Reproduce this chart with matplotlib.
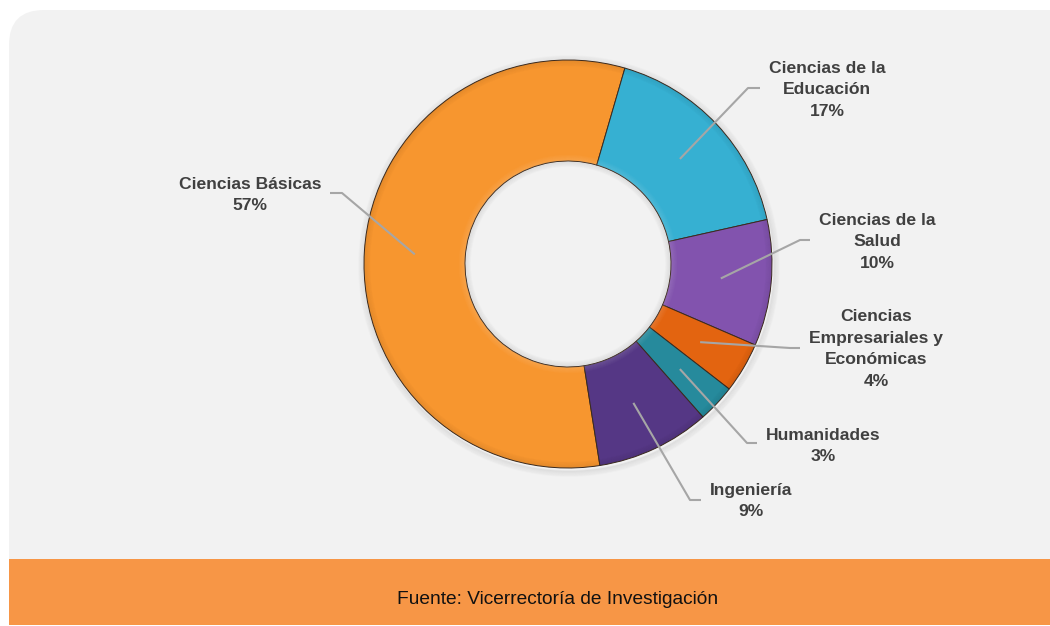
import numpy as np
import matplotlib.pyplot as plt
from matplotlib.patches import FancyBboxPatch, Rectangle, Circle, Wedge

categorias = ["Ciencias Básicas", "Ciencias de la\nEducación", "Ciencias de la\nSalud",
              "Ciencias\nEmpresariales y\nEconómicas", "Humanidades", "Ingeniería"]
porcentajes = [57, 17, 10, 4, 3, 9]
colores = ["#F7962F", "#36B0D2", "#8253AE", "#E36410", "#268A9C", "#553785"]

# posiciones de las etiquetas y codos de las líneas guía (en píxeles, y hacia abajo)
pos_etiqueta = [(250, 195), (827, 90), (877, 242), (876, 349), (823, 446), (751, 501)]
codo = [((342, 193), (330, 193)), ((748, 88), (760, 88)), ((800, 240), (810, 240)),
        ((790, 348), (800, 348)), ((747, 443), (757, 443)), ((690, 500), (701, 500))]

W, H = 1050, 626
fig = plt.figure(figsize=(W / 100, H / 100), dpi=100)
ax = fig.add_axes([0, 0, 1, 1])

# panel gris y franja naranja de la fuente
ax.add_patch(FancyBboxPatch((9, H - 600), W + 60, 590,
                            boxstyle="round,pad=0,rounding_size=35",
                            facecolor="#F2F2F2", edgecolor="none", zorder=0))
ax.add_patch(Rectangle((9, 1), W, 66, facecolor="#F79646", edgecolor="none", zorder=1))
ax.text(558, H - 600, "Fuente: Vicerrectoría de Investigación", ha="center", va="center",
        fontsize=13.8, family="Liberation Sans", color="#111111", zorder=5)

cx, cy = 568, H - 264
R, ancho = 204, 101

# sombra suave alrededor del anillo
for k in range(6):
    ax.add_patch(Circle((cx + 1, cy - 2), R + 1 + k, facecolor="none",
                        edgecolor="#000000", alpha=0.05 - k * 0.007, lw=1.2, zorder=1))

wedges, _ = ax.pie(porcentajes, colors=colores, startangle=-81, counterclock=False,
                   center=(cx, cy), radius=R,
                   wedgeprops=dict(width=ancho, edgecolor="#3b2a1e", linewidth=0.7))
for w in wedges:
    w.set_zorder(3)
    # relieve: borde exterior más oscuro, borde interior más claro
    for i in range(6):
        ax.add_patch(Wedge((cx, cy), R - i, w.theta1, w.theta2, width=1.2,
                           facecolor="#000000", alpha=0.06 - i * 0.009, lw=0, zorder=3.1))
        ax.add_patch(Wedge((cx, cy), R - ancho + 1.2 + i, w.theta1, w.theta2, width=1.2,
                           facecolor="#FFFFFF", alpha=0.10 - i * 0.015, lw=0, zorder=3.1))

# sombra interior del hueco
for k in range(5):
    ax.add_patch(Circle((cx, cy), R - ancho - 1 - k, facecolor="none",
                        edgecolor="#000000", alpha=0.05 - k * 0.009, lw=1.2, zorder=3.2))

ax.set_xlim(0, W)
ax.set_ylim(0, H)
ax.set_axis_off()

# etiquetas con línea guía desde el centro de cada sector
r_mid = R - ancho / 2
for w, nombre, p, (tx, ty), (c1, c2) in zip(wedges, categorias, porcentajes, pos_etiqueta, codo):
    ang = np.deg2rad((w.theta1 + w.theta2) / 2)
    x0, y0 = cx + r_mid * np.cos(ang), cy + r_mid * np.sin(ang)
    ax.plot([x0, c1[0], c2[0]], [y0, H - c1[1], H - c2[1]], color="#A6A6A6",
            lw=1.5, solid_capstyle="butt", zorder=4)
    ax.text(tx, H - ty, f"{nombre}\n{p}%", ha="center", va="center", multialignment="center",
            fontsize=12.6, fontweight="bold", family="Liberation Sans", color="#404040",
            linespacing=1.55, zorder=5)

fig.savefig("out.png", dpi=100, facecolor="white")
